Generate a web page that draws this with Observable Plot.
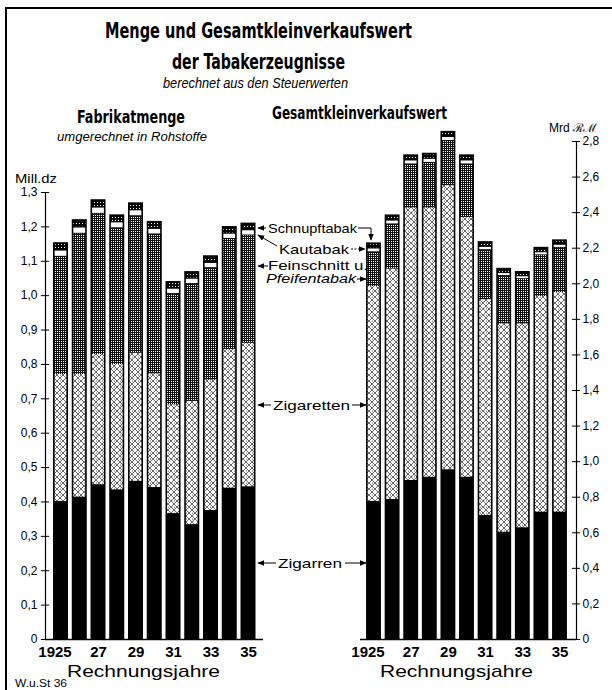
<!DOCTYPE html>
<html><head><meta charset="utf-8">
<script src="https://cdn.jsdelivr.net/npm/d3@7"></script>
<script src="https://cdn.jsdelivr.net/npm/@observablehq/plot@0.6"></script>
<style>
body{margin:0;background:white;}
#root{position:relative;width:612px;height:690px;overflow:hidden;background:white;}
#root > svg, #root > figure{position:absolute;margin:0;}
</style></head><body>
<div id="root"></div>
<script>
// ---------- DATA ----------
const years = [1925,1926,1927,1928,1929,1930,1931,1932,1933,1934,1935];
const xTickYears = [1925,1927,1929,1931,1933,1935];
const xTickLabels = ["1925","27","29","31","33","35"];
const seriesNames = ["Zigarren","Zigaretten","Feinschnitt u. Pfeifentabak","Kautabak","Schnupftabak"];

// Fabrikatmenge (umgerechnet in Rohstoffe), Mill. dz
const mengeZigarren     = [0.401,0.414,0.450,0.435,0.460,0.442,0.366,0.334,0.375,0.440,0.444];
const mengeZigaretten   = [0.370,0.357,0.379,0.365,0.373,0.331,0.317,0.359,0.380,0.404,0.418];
const mengeFeinschnitt  = [0.341,0.408,0.408,0.395,0.397,0.404,0.321,0.340,0.324,0.320,0.312];
const mengeKautabak     = [0.020,0.020,0.020,0.019,0.019,0.018,0.017,0.017,0.017,0.017,0.017];
const mengeSchnupftabak = [0.022,0.022,0.022,0.021,0.021,0.021,0.020,0.020,0.020,0.020,0.020];

// Gesamtkleinverkaufswert, Mrd RM
const wertZigarren     = [0.776,0.787,0.894,0.912,0.954,0.912,0.697,0.603,0.628,0.716,0.716];
const wertZigaretten   = [1.210,1.297,1.533,1.515,1.598,1.462,1.214,1.172,1.147,1.214,1.236];
const wertFeinschnitt  = [0.189,0.248,0.242,0.251,0.249,0.295,0.276,0.267,0.249,0.228,0.248];
const wertKautabak     = [0.025,0.025,0.026,0.026,0.026,0.026,0.022,0.020,0.020,0.021,0.021];
const wertSchnupftabak = [0.030,0.030,0.030,0.030,0.030,0.030,0.028,0.025,0.025,0.026,0.026];

const leftTicks  = [0,0.1,0.2,0.3,0.4,0.5,0.6,0.7,0.8,0.9,1.0,1.1,1.2,1.3];
const rightTicks = [0,0.2,0.4,0.6,0.8,1.0,1.2,1.4,1.6,1.8,2.0,2.2,2.4,2.6,2.8];

// ---------- PATTERNS ----------
const root = document.getElementById("root");
const NS = "http://www.w3.org/2000/svg";
const defsSvg = document.createElementNS(NS, "svg");
defsSvg.setAttribute("width", 0); defsSvg.setAttribute("height", 0);
defsSvg.style.position = "absolute";
defsSvg.innerHTML = `
<defs>
 <pattern id="pat1" patternUnits="userSpaceOnUse" width="6" height="6">
   <rect width="6" height="6" fill="white"/>
   <path d="M0,0L6,6M6,0L0,6" stroke="black" stroke-width="0.6"/>
   <rect x="0" y="2.7" width="0.8" height="0.8" fill="black"/>
 </pattern>
 <pattern id="pat2" patternUnits="userSpaceOnUse" width="2" height="2">
   <rect width="2" height="2" fill="#111"/>
   <rect x="1" y="1" width="1" height="1" fill="white"/>
 </pattern>
 <pattern id="pat3" patternUnits="userSpaceOnUse" width="2" height="2">
   <rect width="2" height="2" fill="white"/>
 </pattern>
 <pattern id="pat4" patternUnits="userSpaceOnUse" width="3" height="3">
   <rect width="3" height="3" fill="black"/>
   <rect x="1" y="1" width="1" height="1" fill="white"/>
 </pattern>
 <marker id="arr" viewBox="0 0 10 10" refX="9" refY="5" markerWidth="7" markerHeight="7" orient="auto-start-reverse" markerUnits="userSpaceOnUse">
   <path d="M0,1L10,5L0,9Z" fill="black"/>
 </marker>
</defs>`;
root.appendChild(defsSvg);

// ---------- TABLE BUILDING ----------
function buildRows(arrays) {
  const rows = [];
  years.forEach((year, i) => {
    let base = 0;
    arrays.forEach((arr, k) => {
      rows.push({year, series: seriesNames[k], k, y1: base, y2: base + arr[i]});
      base += arr[i];
    });
  });
  return rows;
}
function totals(arrays) {
  return years.map((year, i) => ({year, total: d3.sum(arrays, a => a[i])}));
}
const fmt = v => v === 0 ? "0" : d3.format(".1f")(v).replace(".", ",");
const HALF = 0.4;
const tickRows = xTickYears.map((year, i) => ({year, label: xTickLabels[i]}));

function segMarks(rows, tot) {
  const x1 = d => d.year - HALF, x2 = d => d.year + HALF;
  const insets = [
    null,
    {insetLeft: 1.6, insetRight: 1.6},
    {insetLeft: 1.6, insetRight: 1.6},
    {insetLeft: 1.6, insetRight: 1.6, insetTop: 0.8, insetBottom: 0.8},
    {insetLeft: 1.6, insetRight: 1.6, insetTop: 2, insetBottom: 0.5}
  ];
  const marks = [Plot.rect(tot, {x1, x2, y1: 0, y2: "total", fill: "black"})];
  for (let k = 1; k < 5; k++) {
    marks.push(Plot.rect(rows.filter(d => d.k === k), {x1, x2, y1: "y1", y2: "y2", fill: `url(#pat${k})`, ...insets[k]}));
  }
  return marks;
}
function xLabelMarks() {
  return [
    Plot.text(tickRows.slice(0, 1), {x: "year", y: () => 0, text: "label", dy: 13, dx: -6, fontSize: 15, fontWeight: "bold"}),
    Plot.text(tickRows.slice(1), {x: "year", y: () => 0, text: "label", dy: 13, fontSize: 15, fontWeight: "bold"})
  ];
}

const commonStyle = {background: "transparent", fontFamily: "'Liberation Sans', Arial, sans-serif", fontSize: "12px", color: "black", overflow: "visible"};

// ---------- LEFT CHART ----------
const lArrays = [mengeZigarren, mengeZigaretten, mengeFeinschnitt, mengeKautabak, mengeSchnupftabak];
const lRows = buildRows(lArrays), lTot = totals(lArrays);
const lDom = [1924.173, 1935.8];
const left = Plot.plot({
  width: 300, height: 690,
  marginLeft: 45, marginRight: 37, marginTop: 192, marginBottom: 51,
  style: commonStyle,
  x: {type: "linear", domain: lDom, axis: null},
  y: {domain: [0, 1.3], label: null},
  marks: [
    ...segMarks(lRows, lTot),
    Plot.ruleY([0], {stroke: "black", strokeWidth: 1.5}),
    Plot.ruleX([lDom[0]], {y1: 0, y2: 1.3, stroke: "black", strokeWidth: 1.2}),
    Plot.ruleY(leftTicks, {x1: lDom[0] - 0.22, x2: lDom[0] + 0.22, stroke: "black", strokeWidth: 1}),
    Plot.axisY(leftTicks, {anchor: "left", tickSize: 0, tickPadding: 8, tickFormat: fmt, fontSize: 12}),
    ...xLabelMarks()
  ]
});
left.style.left = "0px"; left.style.top = "0px";
root.appendChild(left);

// ---------- RIGHT CHART ----------
const rArrays = [wertZigarren, wertZigaretten, wertFeinschnitt, wertKautabak, wertSchnupftabak];
const rRows = buildRows(rArrays), rTot = totals(rArrays);
const rDom = [1924.274, 1935.887];
const right = Plot.plot({
  width: 282, height: 690,
  marginLeft: 30, marginRight: 36, marginTop: 141, marginBottom: 51,
  style: commonStyle,
  x: {type: "linear", domain: rDom, axis: null},
  y: {domain: [0, 2.8], label: null},
  marks: [
    ...segMarks(rRows, rTot),
    Plot.ruleY([0], {stroke: "black", strokeWidth: 1.5}),
    Plot.ruleX([rDom[1]], {y1: 0, y2: 2.8, stroke: "black", strokeWidth: 1.2}),
    Plot.ruleY(rightTicks, {x1: rDom[1] - 0.22, x2: rDom[1] + 0.22, stroke: "black", strokeWidth: 1}),
    Plot.axisY(rightTicks, {anchor: "right", tickSize: 0, tickPadding: 6, tickFormat: fmt, fontSize: 12}),
    ...xLabelMarks()
  ]
});
right.style.left = "330px"; right.style.top = "0px";
root.appendChild(right);

// ---------- TEXT & ANNOTATIONS ----------
const ov = document.createElementNS(NS, "svg");
ov.setAttribute("width", 612); ov.setAttribute("height", 690);
ov.style.position = "absolute"; ov.style.left = "0"; ov.style.top = "0"; ov.style.pointerEvents = "none";
const narrow = "'Liberation Sans Narrow', 'DejaVu Sans Condensed', 'Liberation Sans', sans-serif";
const plain = "'Liberation Sans', Arial, sans-serif";
const texts = [
  ["Menge und Gesamtkleinverkaufswert", 105, 38, 307, 21, "bold", "normal", narrow],
  ["der Tabakerzeugnisse", 172, 69, 173, 21, "bold", "normal", narrow],
  ["berechnet aus den Steuerwerten", 163, 88, 185, 14, "normal", "italic", plain],
  ["Fabrikatmenge", 77, 123, 108, 17, "bold", "normal", narrow],
  ["umgerechnet in Rohstoffe", 57, 141, 150, 13, "normal", "italic", plain],
  ["Gesamtkleinverkaufswert", 272, 119, 175, 17, "bold", "normal", narrow],
  ["Mrd \u211B\u2133", 549, 132, 48, 12, "normal", "normal", plain],
  ["Mill.dz", 15, 183, 42, 13, "normal", "normal", plain],
  ["Rechnungsjahre", 67, 677, 153, 17, "normal", "normal", plain],
  ["Rechnungsjahre", 380, 677, 153, 17, "normal", "normal", plain],
  ["W.u.St 36", 15, 687, 52, 10, "normal", "normal", plain],
  ["Schnupftabak", 268, 233, 89, 13, "normal", "normal", plain],
  ["Kautabak", 279, 254, 70, 13, "normal", "normal", plain],
  ["Feinschnitt u.", 268, 270, 100, 12, "normal", "normal", plain],
  ["Pfeifentabak", 266, 283, 90, 12, "normal", "italic", plain],
  ["Zigaretten", 273, 410, 77, 13, "normal", "normal", plain],
  ["Zigarren", 278, 568, 64, 13, "normal", "normal", plain]
];
let html = `<line x1="5" y1="8" x2="612" y2="8" stroke="black" stroke-width="2"/>
<line x1="6" y1="7" x2="6" y2="690" stroke="black" stroke-width="2"/>`;
for (const [t, x, y, len, size, w, st, fam] of texts) {
  html += `<text x="${x}" y="${y}" font-size="${size}" font-weight="${w}" font-style="${st}" font-family="${fam}" textLength="${len}" lengthAdjust="spacingAndGlyphs" fill="black">${t}</text>`;
}
const arrows = [
  "M266,228L258,228", "M358,228L371,228L371,240",
  "M277,246L258,235",
  "M268,266L258,266", "M357,279L366,279",
  "M271,405L258,405", "M352,405L366,405",
  "M276,563L258,563", "M345,563L366,563"
];
for (const d of arrows) html += `<path d="${d}" fill="none" stroke="black" stroke-width="1" marker-end="url(#arr)"/>`;
html += `<path d="M351,249L365,249" fill="none" stroke="black" stroke-width="1" stroke-dasharray="2,1.5" marker-end="url(#arr)"/>`;
ov.innerHTML = html;
root.appendChild(ov);
</script></body></html>
